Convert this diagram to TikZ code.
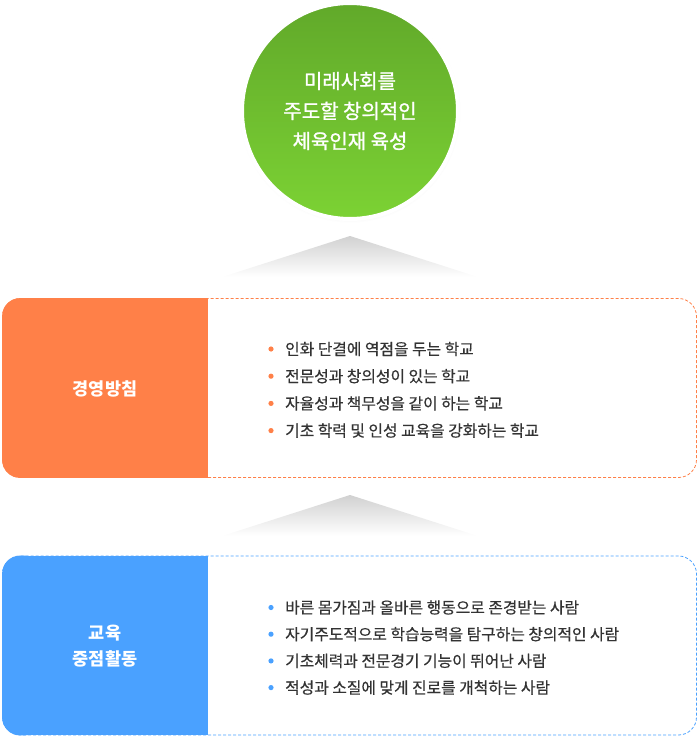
\documentclass[tikz,border=0pt]{standalone}
\usepackage{fontspec}
\setmainfont{Noto Sans CJK KR}
\usetikzlibrary{positioning,shadows,calc}
\definecolor{greentop}{HTML}{61A92A}
\definecolor{greenbot}{HTML}{7CD234}
\definecolor{planorange}{HTML}{FF8048}
\definecolor{focusblue}{HTML}{4AA1FF}
\definecolor{itemgray}{HTML}{333333}

\begin{document}
\begin{tikzpicture}[x=1pt,y=-1pt,
        goal node/.style={circle,minimum size=216pt,draw=white,line width=4pt,
            top color=greentop,bottom color=greenbot,text=white,align=center,
            font=\fontsize{20}{30}\selectfont\addfontfeature{FakeBold=1.2},
            circular drop shadow={shadow xshift=0pt,shadow yshift=-1pt,opacity=.18,shadow scale=1.025}},
        box frame/.style={rectangle,rounded corners=18pt,draw=#1,dash pattern=on 3pt off 2pt,
            line width=.8pt,minimum width=694pt,minimum height=179pt,inner sep=0pt},
        head node/.style={text=white,align=center,font=\bfseries\fontsize{17.5}{26}\selectfont},
        item node/.style={anchor=west,inner sep=0pt,text=itemgray,
            font=\fontsize{15.8}{18}\selectfont\addfontfeature{FakeBold=0.5}},
        step shade/.style={top color=black!18,bottom color=white,draw=none}]
    \useasboundingbox (0,0) rectangle (700,736);

    % goal
    \node[goal node] (goal) at (350,111) {미래사회를\\주도할 창의적인\\체육인재 육성};
    \shade[step shade] (350,236) -- (478,277) -- (222,277) -- cycle;

    % school policy
    \node[box frame=planorange] (planbox) at (349.5,388) {};
    \fill[planorange,rounded corners=18pt] (planbox.north west) rectangle ($(planbox.south west)+(40,0)$);
    \fill[planorange] ($(planbox.north west)+(20,0)$) rectangle ($(planbox.south west)+(206,0)$);
    \node[head node] (planhead) at (105,389) {경영방침};
    \foreach \txt [count=\i] in {인화 단결에 역점을 두는 학교,
            전문성과 창의성이 있는 학교,
            자율성과 책무성을 같이 하는 학교,
            기초 학력 및 인성 교육을 강화하는 학교}{
        \node[item node] (plan\i) at (285,{349+27.2*(\i-1)}) {\txt};
        \fill[planorange] ($(plan\i.west)+(-14,0)$) circle (2.6pt);
    }

    \shade[step shade] (350,495) -- (478,536) -- (222,536) -- cycle;

    % education focus
    \node[box frame=focusblue] (focusbox) at (349.5,645.5) {};
    \fill[focusblue,rounded corners=18pt] (focusbox.north west) rectangle ($(focusbox.south west)+(40,0)$);
    \fill[focusblue] ($(focusbox.north west)+(20,0)$) rectangle ($(focusbox.south west)+(206,0)$);
    \node[head node] (focushead) at (105,646) {교육\\중점활동};
    \foreach \txt [count=\i] in {바른 몸가짐과 올바른 행동으로 존경받는 사람,
            자기주도적으로 학습능력을 탐구하는 창의적인 사람,
            기초체력과 전문경기 기능이 뛰어난 사람,
            적성과 소질에 맞게 진로를 개척하는 사람}{
        \node[item node] (focus\i) at (285,{607.5+26.7*(\i-1)}) {\txt};
        \fill[focusblue] ($(focus\i.west)+(-14,0)$) circle (2.6pt);
    }
\end{tikzpicture}
\end{document}
